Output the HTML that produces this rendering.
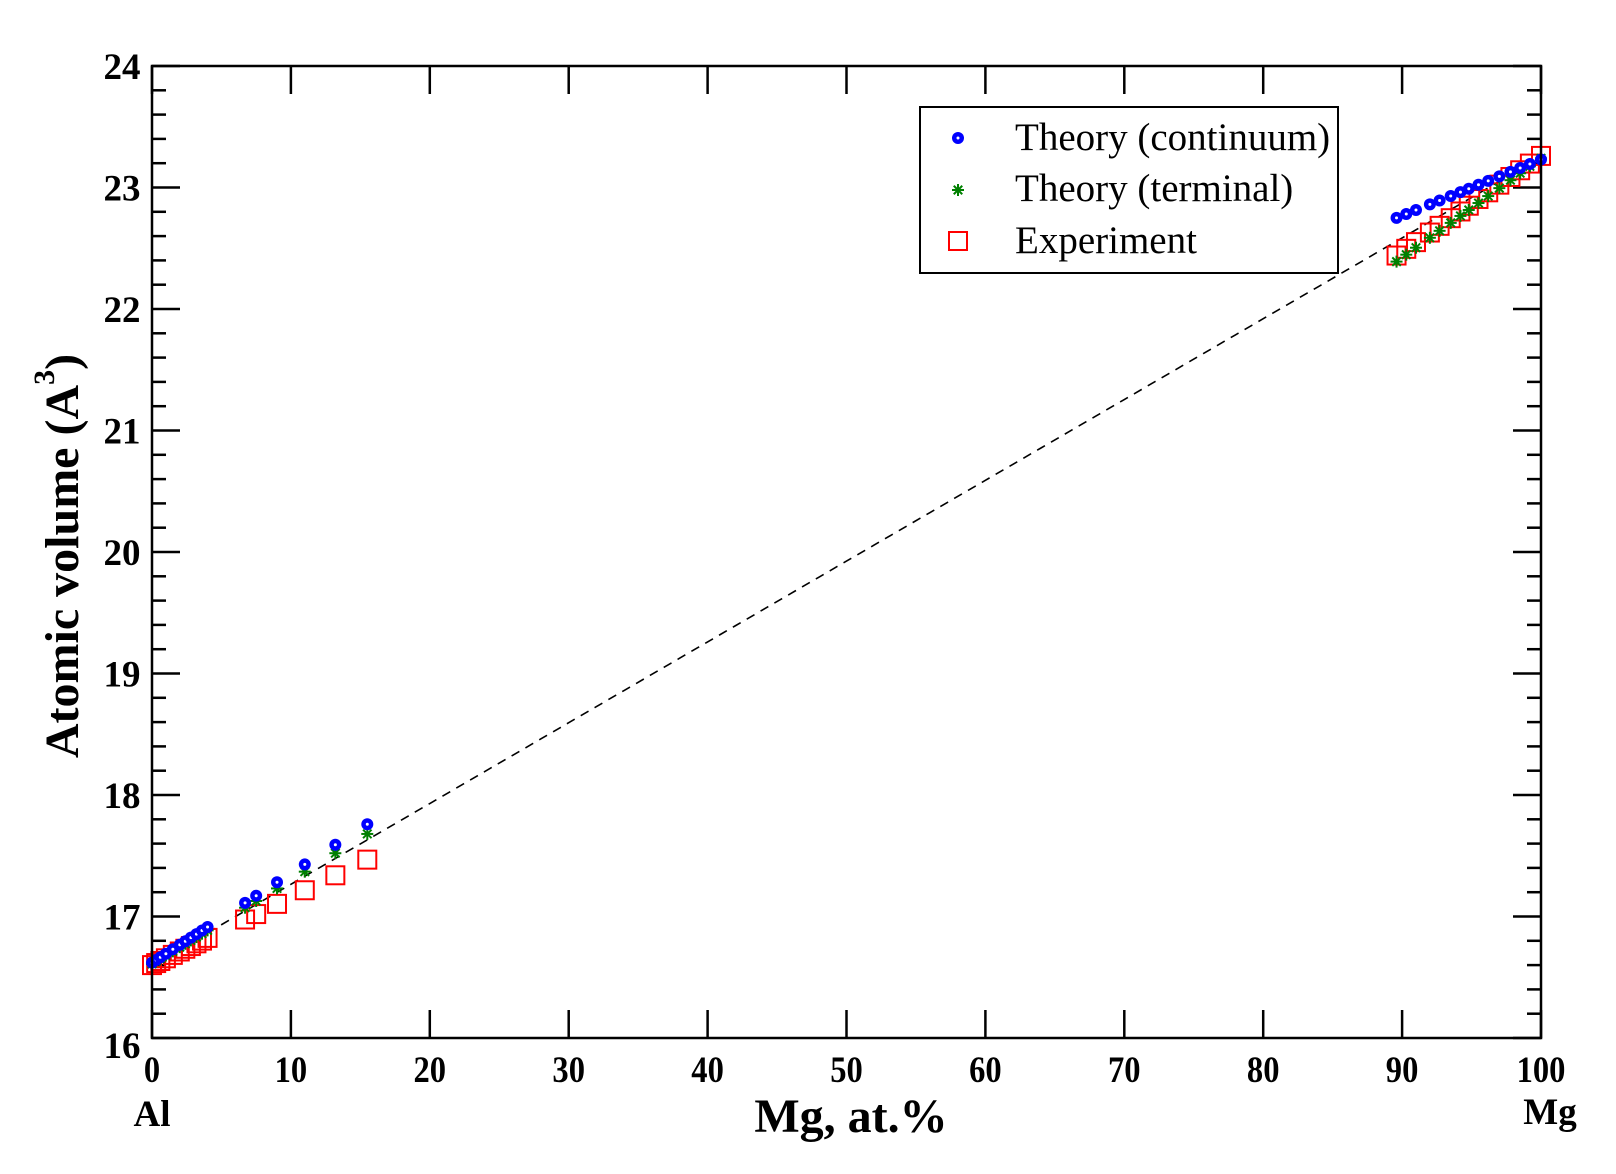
<!DOCTYPE html>
<html><head><meta charset="utf-8">
<style>
html,body{margin:0;padding:0;background:#fff;}
svg{display:block;}
text{font-family:"Liberation Serif",serif;}
</style></head>
<body>
<svg id="s" width="1616" height="1174" viewBox="0 0 1616 1174" xmlns="http://www.w3.org/2000/svg">
<rect width="1616" height="1174" fill="#fff"/>
<g id="ticks" stroke="#000" stroke-width="2.5"></g>
<polyline id="dash" fill="none" stroke="#000" stroke-width="1.6" stroke-dasharray="9,7"/>
<g id="pts"></g>
<rect x="152" y="66" width="1389" height="972" fill="none" stroke="#000" stroke-width="2.5"/>
<g id="labels" font-weight="bold" font-size="37" text-anchor="middle"></g>
<text x="152" y="1126" font-size="37" font-weight="bold" text-anchor="middle">Al</text>
<text x="1550" y="1124" font-size="37" font-weight="bold" text-anchor="middle">Mg</text>
<text x="851" y="1132" font-size="48" font-weight="bold" text-anchor="middle">Mg, at.%</text>
<text transform="translate(78 556) rotate(-90)" font-size="48" font-weight="bold" text-anchor="middle">Atomic volume (A<tspan dy="-24" font-size="30">3</tspan><tspan dy="24">)</tspan></text>
<rect x="920" y="107" width="418" height="166" fill="#fff" stroke="#000" stroke-width="2"/>
<text x="1015" y="150" font-size="39">Theory (continuum)</text>
<text x="1015" y="201" font-size="39">Theory (terminal)</text>
<text x="1015" y="253" font-size="39">Experiment</text>
<g id="leg"></g>
</svg>
<script>
const NS="http://www.w3.org/2000/svg";
const X=v=>152+v*13.89, Y=v=>66+(24-v)*121.5;
function el(p,t,a){const e=document.createElementNS(NS,t);for(const k in a)e.setAttribute(k,a[k]);p.appendChild(e);return e;}
const tk=document.getElementById('ticks'),lb=document.getElementById('labels');
for(let i=0;i<=10;i++){const x=X(i*10);
 el(tk,'line',{x1:x,y1:1038,x2:x,y2:1010});el(tk,'line',{x1:x,y1:66,x2:x,y2:94});
 const t=el(lb,'text',{x:x,y:1082,transform:`translate(${x} 0) scale(0.88 1) translate(${-x} 0)`});t.textContent=i*10;}
for(let k=0;k<=40;k++){const v=16+k*0.2,y=Y(v),L=(k%5==0)?28:14;
 el(tk,'line',{x1:152,y1:y,x2:152+L,y2:y});el(tk,'line',{x1:1541,y1:y,x2:1541-L,y2:y});
 if(k%5==0){const t=el(lb,'text',{x:122,y:(k==0?y+20:y+13)});t.textContent=16+k/5;}}
let pp=[];for(let x=0;x<=100;x+=2){const v=16.6+0.0665*x;pp.push(X(x)+','+Y(v));}
document.getElementById('dash').setAttribute('points',pp.join(' '));
const g=document.getElementById('pts');
function blue(p,x,y){el(p,'circle',{cx:x,cy:y,r:6,fill:'#0000ff'});el(p,'circle',{cx:x,cy:y,r:1.5,fill:'#fff'});}
function green(p,x,y){const q=el(p,'g',{stroke:'#008000','stroke-width':2});
 for(const a of [0,45,90,135]){const r=a*Math.PI/180;el(q,'line',{x1:x-6*Math.cos(r),y1:y-6*Math.sin(r),x2:x+6*Math.cos(r),y2:y+6*Math.sin(r)});}}
function red(p,x,y){el(p,'rect',{x:x-9,y:y-9,width:18,height:18,fill:'none',stroke:'#ff0000','stroke-width':2});}
const lowX=[0,0.3,0.6,1,1.5,2,2.4,2.8,3.2,3.6,4,6.7,7.5,9,11,13.2,15.5];
const hiX=[89.6,90.3,91,92,92.7,93.5,94.2,94.8,95.5,96.2,97,97.8,98.5,99.2,100];
const reds=[],greens=[],blues=[];
for(const x of lowX){blues.push([x,16.62+0.0735*x]);greens.push([x,16.61+0.069*x]);reds.push([x,16.6+0.056*x]);}
for(const x of hiX){const f=(x-89.6)/10.4;blues.push([x,22.75+0.48*f]);greens.push([x,22.39+0.85*f]);reds.push([x,22.44+0.82*f]);}
for(const [x,v] of reds)red(g,X(x),Y(v));
for(const [x,v] of greens)green(g,X(x),Y(v));
for(const [x,v] of blues)blue(g,X(x),Y(v));
const lg=document.getElementById('leg');
blue(lg,958,138);green(lg,958,190);red(lg,958,241);
</script>
</body></html>
